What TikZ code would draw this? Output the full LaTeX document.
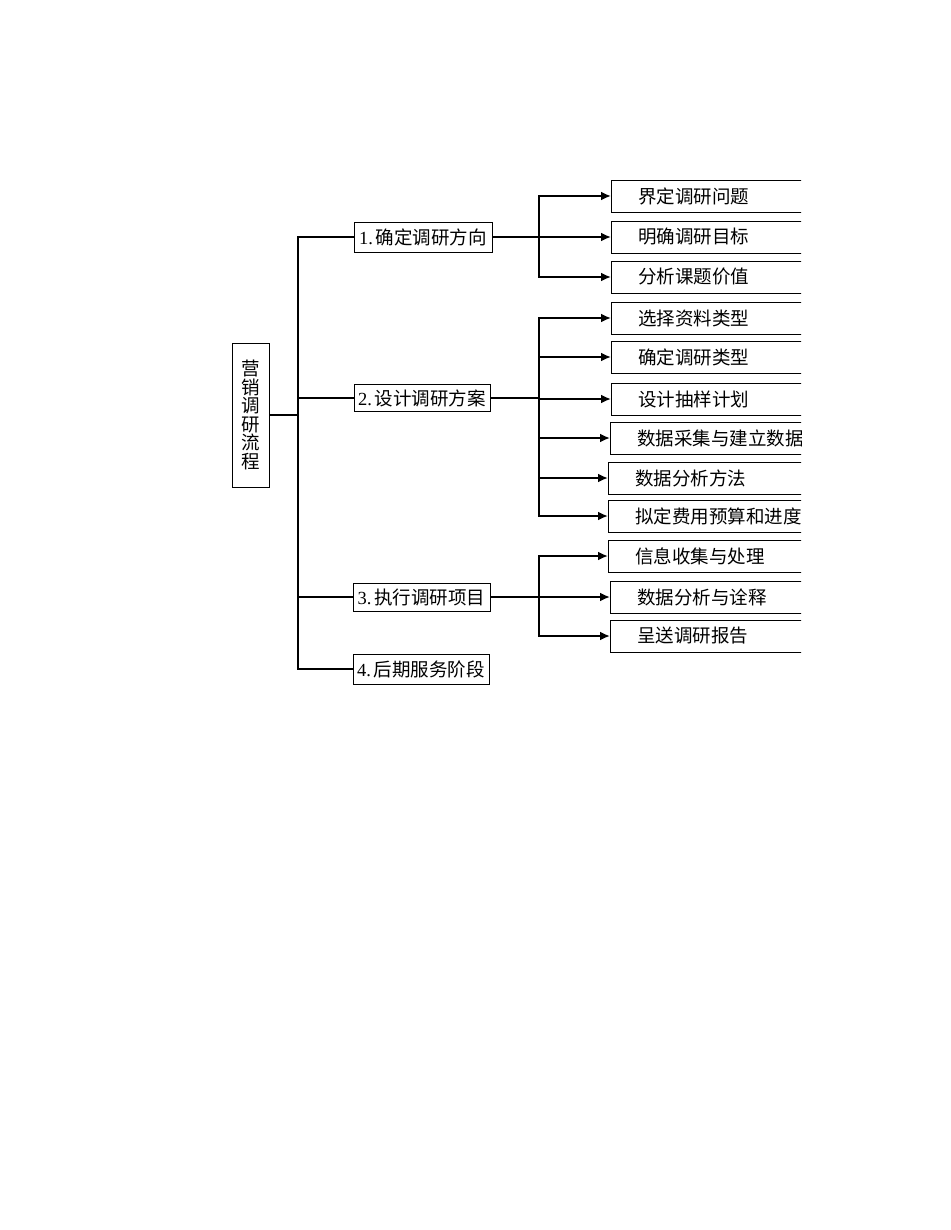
\documentclass[tikz,border=0pt]{standalone}
\usepackage{fontspec}
\setmainfont{Liberation Serif}
\newfontfamily\cjk{Noto Sans CJK SC}
\usetikzlibrary{arrows.meta}

\begin{document}
\begin{tikzpicture}[x=1pt,y=-1pt,>={Latex[length=10pt,width=9pt]},
  box/.style={draw,line width=0.8pt,inner sep=0pt,font=\cjk\fontsize{18.5}{18.5}\selectfont},
  link/.style={line width=2pt},
  item/.style={box,anchor=west,minimum height=32pt,inner xsep=27pt,text width=200pt,align=left}]

\useasboundingbox (0,0) rectangle (950,1230);

\node[box,minimum width=37pt,minimum height=144pt,align=center] (root) at (250.5,415) {营\\销\\调\\研\\流\\程};

\node[box,minimum width=138pt,minimum height=30pt] (l1) at (423,237) {{\rmfamily 1.}\hspace{3pt}确定调研方向};
\node[box,minimum width=136pt,minimum height=27pt] (l2) at (422,398) {{\rmfamily 2.}\hspace{3pt}设计调研方案};
\node[box,minimum width=137pt,minimum height=28pt] (l3) at (421.5,597) {{\rmfamily 3.}\hspace{3pt}执行调研项目};
\node[box,minimum width=136pt,minimum height=30pt] (l4) at (421,669) {{\rmfamily 4.}\hspace{3pt}后期服务阶段};

\coordinate (t) at (298,415);
\coordinate (s1) at (539,237);
\coordinate (s2) at (539,398);
\coordinate (s3) at (539,597);

% right column, cut off at the page edge
\begin{scope}
\clip (0,0) rectangle (801,1230);
\foreach \n/\x/\y/\t in {c11/611/196/界定调研问题,c12/611/237/明确调研目标,c13/611/277/分析课题价值,
    c21/611/318/选择资料类型,c22/611/357/确定调研类型,c23/611/399/设计抽样计划,
    c24/610/438/数据采集与建立数据,c25/608/478/数据分析方法,c26/608/516/拟定费用预算和进度,
    c31/608/556/信息收集与处理,c32/610/597/数据分析与诠释,c33/610/636/呈送调研报告}{
        \node[item] (\n) at (\x,\y) {\t};
}
\end{scope}

\draw[link] (root.east) -- (t);
\foreach \l in {l1,l2,l3,l4}{
        \draw[link] (t) |- (\l.west);
}
\draw[link] (l1.east) -- (s1);
\draw[link] (l2.east) -- (s2);
\draw[link] (l3.east) -- (s3);
\foreach \n in {c11,c12,c13}{
        \draw[link,->] (s1) |- (\n.west);
}
\foreach \n in {c21,c22,c23,c24,c25,c26}{
        \draw[link,->] (s2) |- (\n.west);
}
\foreach \n in {c31,c32,c33}{
        \draw[link,->] (s3) |- (\n.west);
}

\end{tikzpicture}
\end{document}
